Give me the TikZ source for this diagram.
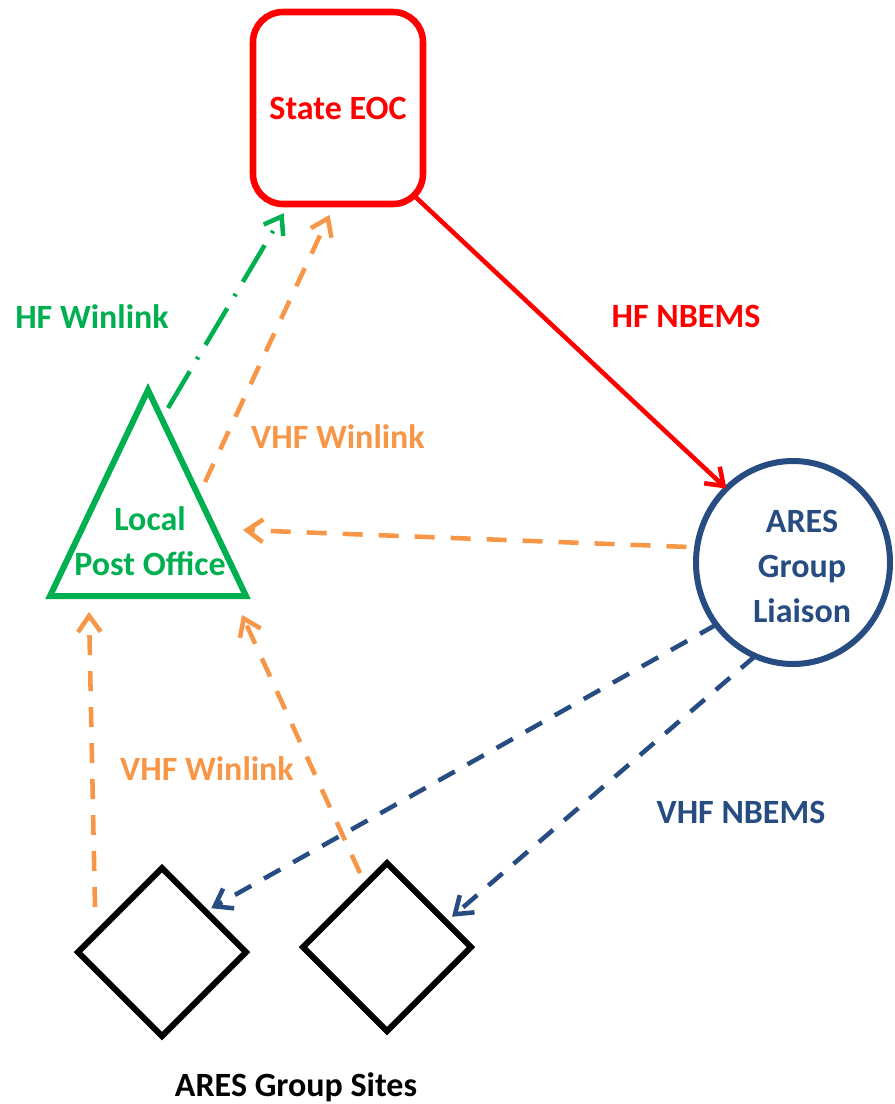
\documentclass[tikz,border=0pt]{standalone}
\usepackage{fontspec}
\setmainfont{Carlito}
\definecolor{EocColor}{RGB}{255,0,0}
\definecolor{OfficeColor}{RGB}{0,176,80}
\definecolor{VhfColor}{RGB}{247,150,70}
\definecolor{LiaisonColor}{RGB}{38,76,130}
\usetikzlibrary{arrows.meta, shapes.geometric, positioning}
\tikzstyle{barb} = [-{Straight Barb[length=12pt,width=17pt]}]
\tikzset{
  node text/.style={font=\bfseries\fontsize{25.5}{33.75}\selectfont, align=center},
  eoc box/.style={rectangle, rounded corners=22.5pt, draw=EocColor, line width=4.9pt, minimum width=127.5pt, minimum height=144pt, inner sep=0pt, outer sep=0pt, node text, text=EocColor},
  post office/.style={isosceles triangle, isosceles triangle stretches, shape border rotate=90, draw=OfficeColor, line width=4.5pt, minimum width=147pt, minimum height=154.5pt, inner sep=0pt, outer sep=0pt},
  liaison/.style={ellipse, draw=LiaisonColor, line width=4.5pt, minimum width=145.5pt, minimum height=152.25pt, inner sep=0pt, outer sep=0pt},
  site/.style={diamond, draw=black, line width=4.5pt, minimum size=126pt, inner sep=0pt, outer sep=0pt},
  hf nbems/.style={barb, EocColor, line width=3.4pt},
  hf winlink/.style={barb, OfficeColor, line width=3.4pt, dash pattern=on 32pt off 10.5pt on 2pt off 10.5pt},
  vhf winlink/.style={barb, VhfColor, line width=3.4pt, dash pattern=on 15pt off 12pt},
  vhf nbems/.style={barb, LiaisonColor, line width=3.4pt, dash pattern=on 14pt off 11pt}
}

\begin{document}
\begin{tikzpicture}[x=0.75pt, y=-0.75pt]
  \useasboundingbox (0,0) rectangle (894,1104);

  % Stations
  \node[eoc box] (eoc) at (338,108) {State EOC};
  \node[post office, anchor=apex] (office) at (148,390) {};
  \node[node text, OfficeColor, anchor=base] (office text) at (150,575) {Local\\Post Office};
  \node[liaison] (liaison) at (793,562.5) {};
  \node[node text, LiaisonColor, anchor=base] (liaison text) at (802,622) {ARES\\Group\\Liaison};
  \node[site] (site a) at (162,952) {};
  \node[site] (site b) at (387,947) {};
  \node[node text, anchor=base] (sites text) at (296,1096) {ARES Group Sites};

  % Free ends near the post office
  \coordinate (hf start) at ([xshift=15pt, yshift=-13.5pt]office.apex);
  \coordinate (vhf start) at ([xshift=42.75pt, yshift=-69pt]office.apex);
  \coordinate (vhf side) at ([xshift=71.25pt, yshift=-105pt]office.apex);
  \coordinate (vhf base a) at ([xshift=-44.25pt, yshift=-166.5pt]office.apex);
  \coordinate (vhf base b) at ([xshift=70.5pt, yshift=-168.75pt]office.apex);
  \coordinate (site a top) at ([xshift=-50.25pt, yshift=33.75pt]site a.center);
  \coordinate (site b top) at ([xshift=-20.25pt, yshift=55.5pt]site b.center);

  % Links
  \draw[hf nbems, shorten <=-9pt] (eoc.south east) -- (liaison.132);
  \draw[hf winlink, shorten >=8pt] (hf start) -- (eoc.243);
  \draw[vhf winlink, shorten >=9pt] (vhf start) -- (eoc.268);
  \draw[vhf winlink, shorten <=8pt] (liaison.171) -- (vhf side);
  \draw[vhf winlink] (site a top) -- (vhf base a);
  \draw[vhf winlink] (site b top) -- (vhf base b);
  \draw[vhf nbems, shorten >=5pt] (liaison.219) -- (site a.43);
  \draw[vhf nbems, shorten >=6pt] (liaison.248) -- (site b.23);

  % Link labels
  \node[node text, OfficeColor, anchor=base] (hf winlink text) at (92,328) {HF Winlink};
  \node[node text, EocColor, anchor=base] (hf nbems text) at (686,327) {HF NBEMS};
  \node[node text, VhfColor, anchor=base] (vhf upper text) at (338,448) {VHF Winlink};
  \node[node text, VhfColor, anchor=base] (vhf lower text) at (207,780) {VHF Winlink};
  \node[node text, LiaisonColor, anchor=base] (vhf nbems text) at (741,823) {VHF NBEMS};
\end{tikzpicture}
\end{document}
